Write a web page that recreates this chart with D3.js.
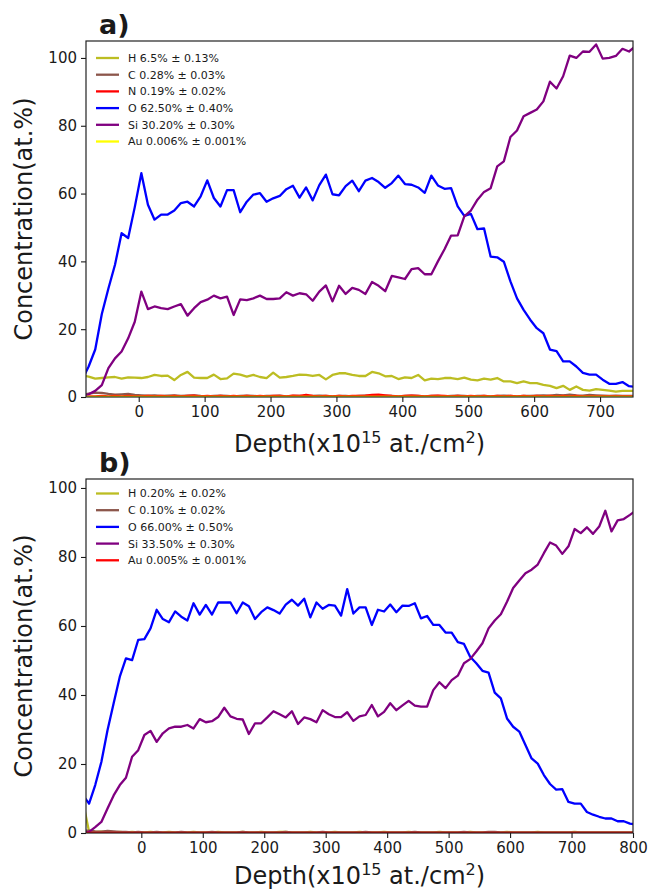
<!DOCTYPE html>
<html>
<head>
<meta charset="utf-8">
<title>Depth profiles</title>
<script src="https://cdn.jsdelivr.net/npm/d3@7"></script>
<style>
    body { margin: 0; background: #fff; }
    svg text { font-family: "DejaVu Sans", sans-serif; fill: #1a1a1a; }
    .tick line { stroke: #1a1a1a; }
</style>
</head>
<body>
<svg id="chart" width="650" height="892"></svg>
<script>
// ---- panel a data (depth in 1e15 at./cm2, concentration in at.%) ----
var depthA = [-86,-76,-66,-56,-46,-36,-26,-16,-6,4,14,24,34,44,54,64,74,84,94,104,
    114,124,134,144,154,164,174,184,194,204,214,224,234,244,254,264,274,284,294,304,
    314,324,334,344,354,364,374,384,394,404,414,424,434,444,454,464,474,484,494,504,
    514,524,534,544,554,564,574,584,594,604,614,624,634,644,654,664,674,684,694,704,
    714,724,734,744,754];
var hydrogenA = [6.4,6.0,5.4,5.6,5.8,5.9,5.4,5.8,5.7,5.6, 5.9,6.5,6.2,6.3,5.0,6.5,7.4,5.7,5.6,5.6,
    6.6,5.3,5.5,6.9,6.6,6.0,6.5,5.9,5.6,7.2, 5.7,5.9,6.2,6.6,6.5,6.2,6.5,5.2,6.5,7.0,
    7.0,6.5,6.2,6.2,7.4,7.0,6.1,6.2,5.3,5.8, 5.6,6.5,4.9,5.4,5.3,5.6,5.6,5.3,5.7,5.1,
    4.9,5.4,5.1,5.6,4.6,4.6,4.1,4.6,4.1,4.1, 3.6,3.3,2.6,3.3,2.1,3.1,2.1,1.9,2.3,2.1,
    1.9,1.6,1.8,1.8,1.8];
var carbonA = [0.6,1.0,1.3,1.2,0.9,0.7,0.8,0.9,0.6,0.5, 0.4,0.5,0.3,0.4,0.5,0.3,0.4,0.5,0.3,0.2,
    0.3,0.4,0.3,0.2,0.3,0.4,0.3,0.2,0.3,0.3, 0.4,0.2,0.3,0.3,0.2,0.3,0.4,0.3,0.2,0.3,
    0.3,0.2,0.3,0.4,0.3,0.2,0.3,0.3,0.2,0.3, 0.4,0.3,0.2,0.3,0.3,0.2,0.3,0.4,0.3,0.2,
    0.3,0.3,0.2,0.3,0.4,0.3,0.2,0.3,0.3,0.4, 0.5,0.4,0.6,0.5,0.7,0.5,0.4,0.6,0.5,0.4,
    0.3,0.4,0.3,0.3,0.3];
var nitrogenA = [0.1,0.2,0.2,0.3,0.2,0.3,0.2,0.3,0.2,0.2, 0.3,0.2,0.3,0.2,0.3,0.2,0.3,0.4,0.2,0.3,
    0.2,0.3,0.2,0.3,0.2,0.3,0.2,0.3,0.2,0.3, 0.3,0.2,0.4,0.3,0.6,0.3,0.2,0.3,0.2,0.3,
    0.2,0.3,0.3,0.4,0.6,0.7,0.5,0.3,0.2,0.3, 0.4,0.3,0.2,0.3,0.4,0.3,0.2,0.3,0.2,0.3,
    0.2,0.3,0.2,0.3,0.2,0.3,0.2,0.3,0.2,0.3, 0.2,0.3,0.2,0.3,0.2,0.3,0.2,0.2,0.2,0.2,
    0.2,0.2,0.2,0.2,0.2];
var oxygenA = [5,9,14,24.5,32,39,48.3,46.9,56,66, 56.7,52.3,53.8,53.8,55,57.2,57.6,56.2,59.2,63.9,
    58.7,56.2,61,61,54.5,57.6,59.7,60.1,57.6,58.6, 59.3,61.3,62.3,58.8,61.8,58,62.5,65.6,59.8,59.5,
    62.2,63.8,60.7,63.8,64.6,63.4,61.7,63.1,65.3,62.8, 62.6,61.8,60.2,65.3,62.4,61.4,61.6,56.2,53.4,54,
    49.5,49.7,41.4,41.2,39.9,34.1,29.1,25.7,22.8,20.3, 18.8,14,13.5,10.5,10.5,9,7.1,6.6,6.6,5.1,
    3.9,3.9,4.4,3.2,3];
var siliconA = [0.4,0.8,1.8,3.5,8.5,11.4,13.4,17.3,22.2,31.1, 25.9,26.7,26.2,25.9,26.7,27.4,24,26.2,28,28.7,
    29.9,29.1,29.6,24.2,28.8,28.6,29.1,29.9,28.9,28.9, 29.1,30.9,29.9,30.6,30.3,28.4,31.1,32.9,28.2,32.8,
    30.4,32.2,31.6,30.4,33.9,32.8,31.2,35.7,35.3,34.8, 37.7,38,36.2,36.2,40,43.6,47.6,47.7,53.3,55,
    58.2,60.5,61.6,68,69.5,76.7,78.6,82.8,83.8,84.8, 87.2,93,91,94.6,100.7,100,101.9,101.8,104,99.8,
    100,100.6,102.7,101.9,103.5];
var goldA = [0.05,0.05,0.06,0.05,0.04,0.05,0.05,0.06,0.05,0.05, 0.04,0.05,0.05,0.06,0.05,0.05,0.04,0.05,0.05,0.06,
    0.05,0.05,0.04,0.05,0.05,0.06,0.05,0.05,0.04,0.05, 0.05,0.06,0.05,0.05,0.04,0.05,0.05,0.06,0.05,0.05,
    0.04,0.05,0.05,0.06,0.05,0.05,0.04,0.05,0.05,0.06, 0.05,0.05,0.04,0.05,0.05,0.06,0.05,0.05,0.04,0.05,
    0.05,0.06,0.05,0.05,0.04,0.05,0.05,0.06,0.05,0.05, 0.04,0.05,0.05,0.06,0.05,0.05,0.04,0.05,0.05,0.06,
    0.05,0.05,0.04,0.05,0.05];
var legendA = ["H 6.5% \u00b1 0.13%", "C 0.28% \u00b1 0.03%", "N 0.19% \u00b1 0.02%",
    "O 62.50% \u00b1 0.40%", "Si 30.20% \u00b1 0.30%", "Au 0.006% \u00b1 0.001%"];

// ---- panel b data ----
var depthB = [-95,-85,-75,-65,-55,-45,-35,-25,-15,-5,5,15,25,35,45,55,65,75,85,95,
    105,115,125,135,145,155,165,175,185,195,205,215,225,235,245,255,265,275,285,295,
    305,315,325,335,345,355,365,375,385,395,405,415,425,435,445,455,465,475,485,495,
    505,515,525,535,545,555,565,575,585,595,605,615,625,635,645,655,665,675,685,695,
    705,715,725,735,745,755,765,775,785,795,805];
var hydrogenB = [9,0.4,0.3,0.4,0.3,0.2,0.3,0.2,0.3,0.2, 0.2,0.3,0.2,0.2,0.3,0.2,0.2,0.2,0.3,0.2,
    0.2,0.2,0.3,0.2,0.2,0.2,0.3,0.2,0.2,0.3, 0.2,0.2,0.3,0.3,0.2,0.2,0.2,0.3,0.2,0.2,
    0.2,0.3,0.2,0.2,0.2,0.3,0.2,0.2,0.2,0.3, 0.2,0.2,0.2,0.3,0.2,0.2,0.2,0.2,0.3,0.2,
    0.2,0.2,0.2,0.3,0.2,0.2,0.2,0.2,0.2,0.3, 0.2,0.2,0.2,0.2,0.3,0.2,0.2,0.2,0.2,0.2,
    0.3,0.2,0.2,0.2,0.2,0.2,0.2,0.2,0.2,0.2, 0.2];
var carbonB = [0.6,0.7,0.5,0.4,0.6,0.5,0.3,0.3,0.2,0.3, 0.2,0.2,0.3,0.2,0.2,0.2,0.3,0.2,0.2,0.2,
    0.2,0.3,0.2,0.2,0.2,0.2,0.3,0.2,0.2,0.2, 0.2,0.2,0.2,0.3,0.2,0.2,0.2,0.2,0.2,0.3,
    0.2,0.2,0.2,0.2,0.2,0.2,0.3,0.2,0.2,0.2, 0.2,0.2,0.2,0.2,0.3,0.2,0.2,0.2,0.2,0.2,
    0.2,0.2,0.3,0.2,0.2,0.2,0.3,0.3,0.2,0.2, 0.2,0.2,0.2,0.2,0.2,0.2,0.2,0.2,0.2,0.2,
    0.2,0.2,0.2,0.2,0.2,0.2,0.2,0.2,0.2,0.2, 0.2];
var oxygenB = [11,8.5,13.9,20.6,29.8,37.6,45.3,50.6,50.1,56, 56.2,59.3,64.7,62,61.1,64.2,62.7,61.6,66.6,63.3,
    66.1,63.3,66.8,66.8,66.8,63.7,66.8,65.7,62,64, 65.4,64.6,63.6,66.2,67.6,65.9,67.9,62.5,66.8,65,
    66.1,65.9,63,70.7,63.6,65.4,65.4,60.3,64.7,64.2, 66.2,64,65.9,65.8,66.6,62.2,62.9,60.3,60.3,58.1,
    58.1,55.3,54.8,51.1,49.2,47,46.5,40.7,39,33.2, 30.8,29.4,25.5,21.6,20.1,16.8,14.2,12.6,12.7,9,
    8.5,8.5,6.1,5.3,4.7,4.2,4.2,3.4,3.4,2.7, 2.5];
var siliconB = [0,0.3,1.7,3.2,7.1,10.9,13.9,16,22.1,24, 28.4,29.6,26.4,28.9,30.3,30.8,30.8,31.3,30.3,33,
    32.1,32.4,33.6,36.3,33.8,33.1,32.9,28.7,31.8,31.8, 33.5,35.3,34.4,33.5,35.3,31.6,33.5,33,32.1,35.6,
    34.4,33.6,33.6,35,32.5,33.8,34.2,37.1,33.8,35.1, 37.6,35.6,37,38.3,36.9,36.6,36.6,41.4,43.7,42,
    44.3,45.6,49.2,50.4,52.6,55,59.3,61.6,63.4,67, 71,73.2,75.3,76.3,77.8,81.1,84.2,83.3,80.9,83.1,
    88.1,86.9,88.6,86.7,88.8,93.4,87.4,90.6,91,92.2, 93.5];
var goldB = [0.05,0.05,0.05,0.05,0.05,0.05,0.05,0.05,0.05,0.05, 0.05,0.05,0.05,0.05,0.05,0.05,0.05,0.05,0.05,0.05,
    0.05,0.05,0.05,0.05,0.05,0.05,0.05,0.05,0.05,0.05, 0.05,0.05,0.05,0.05,0.05,0.05,0.05,0.05,0.05,0.05,
    0.05,0.05,0.05,0.05,0.05,0.05,0.05,0.05,0.05,0.05, 0.05,0.05,0.05,0.05,0.05,0.05,0.05,0.05,0.05,0.05,
    0.05,0.05,0.05,0.05,0.05,0.05,0.05,0.05,0.05,0.05, 0.05,0.05,0.05,0.05,0.05,0.05,0.05,0.05,0.05,0.05,
    0.05,0.05,0.05,0.05,0.05,0.05,0.05,0.05,0.05,0.05, 0.05];
var legendB = ["H 0.20% \u00b1 0.02%", "C 0.10% \u00b1 0.02%", "O 66.00% \u00b1 0.50%",
    "Si 33.50% \u00b1 0.30%", "Au 0.005% \u00b1 0.001%"];

var yTicks = [0, 20, 40, 60, 80, 100];
var xTicksA = [0, 100, 200, 300, 400, 500, 600, 700];
var xTicksB = [0, 100, 200, 300, 400, 500, 600, 700, 800];

var cH = "#bcbd22", cC = "#8c564b", cN = "#ff0000", cO = "#0000ff", cSi = "#800080";

var panels = [
    {
        id: "a", label: "a)", depth: depthA, xDomain: [-80, 750], yDomain: [0, 105],
        top: 41, bottom: 397, xTicks: xTicksA, legendY: 58, titleGap: 55,
        series: [
            { name: legendA[0], color: cH, values: hydrogenA },
            { name: legendA[1], color: cC, values: carbonA },
            { name: legendA[2], color: cN, values: nitrogenA },
            { name: legendA[3], color: cO, values: oxygenA },
            { name: legendA[4], color: cSi, values: siliconA },
            { name: legendA[5], color: "#ffff00", values: goldA }
        ]
    },
    {
        id: "b", label: "b)", depth: depthB, xDomain: [-90, 800], yDomain: [0, 102.6],
        top: 479, bottom: 833, xTicks: xTicksB, legendY: 493.5, titleGap: 51,
        series: [
            { name: legendB[0], color: cH, values: hydrogenB },
            { name: legendB[1], color: cC, values: carbonB },
            { name: legendB[2], color: cO, values: oxygenB },
            { name: legendB[3], color: cSi, values: siliconB },
            { name: legendB[4], color: cN, values: goldB }
        ]
    }
];

var svg = d3.select("#chart");
var left = 86, right = 633;

panels.forEach(function (p) {
    var x = d3.scaleLinear().domain(p.xDomain).range([left, right]);
    var y = d3.scaleLinear().domain(p.yDomain).range([p.bottom, p.top]);
    var g = svg.append("g");

    g.append("clipPath").attr("id", "clip-" + p.id)
        .append("rect")
        .attr("x", left).attr("y", p.top)
        .attr("width", right - left).attr("height", p.bottom - p.top);

    var line = d3.line()
        .x(function (d, i) { return x(p.depth[i]); })
        .y(function (d) { return y(d); });

    var lines = g.append("g").attr("clip-path", "url(#clip-" + p.id + ")");
    p.series.forEach(function (s) {
        lines.append("path")
            .datum(s.values)
            .attr("d", line)
            .attr("fill", "none")
            .attr("stroke", s.color)
            .attr("stroke-width", 2.3)
            .attr("stroke-linejoin", "round");
    });

    // axes
    var xAxis = g.append("g")
        .attr("transform", "translate(0," + p.bottom + ")")
        .call(d3.axisBottom(x).tickValues(p.xTicks).tickSize(5).tickPadding(4).tickSizeOuter(0));
    var yAxis = g.append("g")
        .attr("transform", "translate(" + left + ",0)")
        .call(d3.axisLeft(y).tickValues(yTicks).tickSize(5).tickPadding(4).tickSizeOuter(0));
    [xAxis, yAxis].forEach(function (a) {
        a.select(".domain").remove();
        a.selectAll("text").style("font-size", "15px").attr("fill", "#1a1a1a");
        a.selectAll(".tick line").attr("stroke-width", 1.1);
    });

    // frame
    g.append("rect")
        .attr("x", left).attr("y", p.top)
        .attr("width", right - left).attr("height", p.bottom - p.top)
        .attr("fill", "none").attr("stroke", "#222").attr("stroke-width", 1.2);

    // legend
    var leg = g.append("g");
    p.series.forEach(function (s, i) {
        var ly = p.legendY + i * 16.7;
        leg.append("line")
            .attr("x1", left + 10).attr("x2", left + 33)
            .attr("y1", ly).attr("y2", ly)
            .attr("stroke", s.color).attr("stroke-width", 2.3);
        leg.append("text")
            .attr("x", left + 42).attr("y", ly)
            .attr("dy", "0.36em")
            .style("font-size", "11px")
            .attr("fill", "#262626")
            .text(s.name);
    });

    // axis titles
    var midY = (p.top + p.bottom) / 2;
    g.append("text")
        .attr("transform", "translate(32," + midY + ") rotate(-90)")
        .attr("text-anchor", "middle")
        .style("font-size", "24px")
        .text("Concentration(at.%)");

    var xt = g.append("text")
        .attr("x", (left + right) / 2)
        .attr("y", p.bottom + p.titleGap)
        .attr("text-anchor", "middle")
        .style("font-size", "24px");
    xt.append("tspan").text("Depth(x10");
    xt.append("tspan").attr("dy", -9).style("font-size", "16px").text("15");
    xt.append("tspan").attr("dy", 9).text(" at./cm");
    xt.append("tspan").attr("dy", -9).style("font-size", "16px").text("2");
    xt.append("tspan").attr("dy", 9).text(")");

    // panel label
    g.append("text")
        .attr("x", 99).attr("y", p.top - 7)
        .style("font-size", "27px")
        .style("font-weight", "bold")
        .text(p.label);
});
</script>
</body>
</html>
